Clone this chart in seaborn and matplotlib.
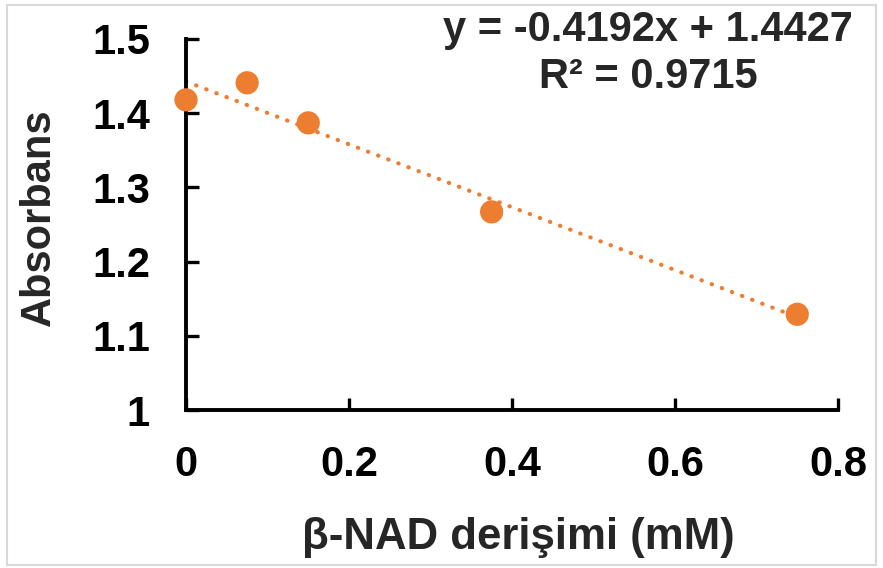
import pandas as pd
import matplotlib
matplotlib.use("Agg")
import matplotlib.pyplot as plt
from matplotlib.patches import Rectangle
import seaborn as sns

# data
nad_mM = [0.0, 0.075, 0.15, 0.375, 0.75]
absorbans = [1.418, 1.441, 1.387, 1.267, 1.129]
x_ticks = [0, 0.2, 0.4, 0.6, 0.8]
x_tick_labels = ["0", "0.2", "0.4", "0.6", "0.8"]
y_ticks = [1.0, 1.1, 1.2, 1.3, 1.4, 1.5]
y_tick_labels = ["1", "1.1", "1.2", "1.3", "1.4", "1.5"]
eq_text = "y = -0.4192x + 1.4427"
r2_text = "R² = 0.9715"

df = pd.DataFrame({"x": nad_mM, "y": absorbans})
orange = "#ED7D31"

sns.set_style("ticks")
plt.rcParams["font.family"] = ["Liberation Sans", "DejaVu Sans"]
plt.rcParams["font.weight"] = "bold"

fig = plt.figure(figsize=(8.83, 5.68), dpi=100)
ax = fig.add_axes([186 / 883, 1 - 410 / 568, 652 / 883, 371 / 568])

# trendline (dotted) and points
sns.regplot(data=df, x="x", y="y", scatter=False, ci=None, ax=ax,
            line_kws=dict(color=orange, lw=3.0, ls=(0, (0.1, 2.5)),
                          dash_capstyle="round"))
sns.scatterplot(data=df, x="x", y="y", ax=ax, color=orange, s=280,
                edgecolor="none", zorder=3, clip_on=False)

ax.set_xlim(0, 0.8)
ax.set_ylim(1.0, 1.5)
ax.set_xticks(x_ticks, x_tick_labels)
ax.set_yticks(y_ticks, y_tick_labels)
ax.tick_params(direction="in", length=9, width=2.4, labelsize=30,
               colors="black")
ax.tick_params(axis="y", pad=26)
ax.tick_params(axis="x", pad=25)
for lab in ax.get_xticklabels() + ax.get_yticklabels():
    lab.set_fontweight("bold")

sns.despine(ax=ax)
for side in ["left", "bottom"]:
    ax.spines[side].set_linewidth(2.8)
    ax.spines[side].set_color("black")

ax.set_xlabel("β-NAD derişimi (mM)", fontsize=31.5, fontweight="bold")
ax.set_ylabel("Absorbans", fontsize=30, fontweight="bold")
ax.xaxis.label.set_va("center")
ax.yaxis.label.set_va("center")
ax.xaxis.set_label_coords(0.51, (410 - 538) / 371)
ax.yaxis.set_label_coords((39 - 186) / 652, 0.52)

fig.text(648 / 883, 1 - 30 / 568, eq_text, ha="center", va="center",
         fontsize=30, fontweight="bold")
fig.text(648 / 883, 1 - 77 / 568, r2_text, ha="center", va="center",
         fontsize=30, fontweight="bold")

# light grey frame around the picture
fig.patches.append(Rectangle((7 / 883, 3 / 568), 869 / 883, 560 / 568,
                             transform=fig.transFigure, fill=False,
                             edgecolor="#d9d9d9", lw=1.5))

fig.savefig("out.png", dpi=100)
